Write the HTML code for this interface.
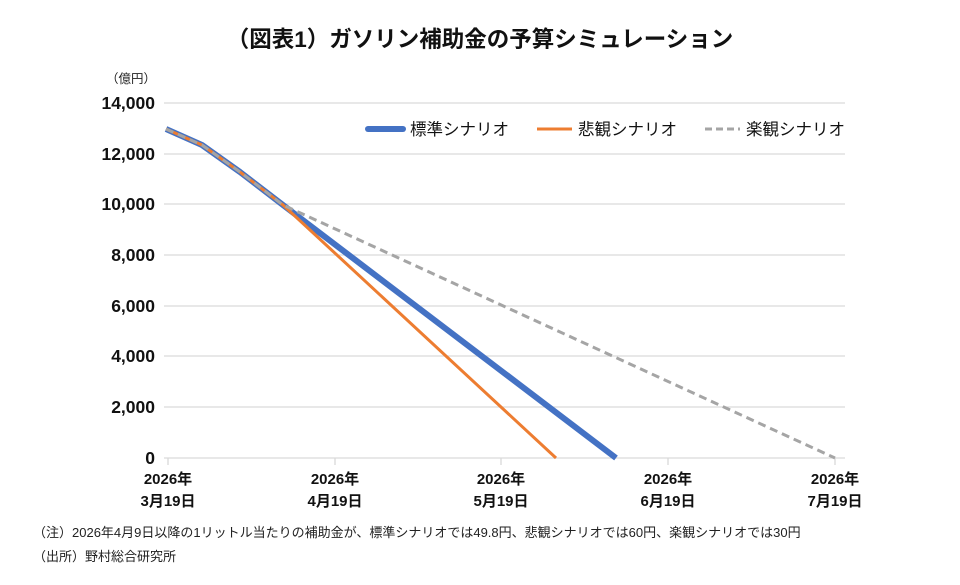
<!DOCTYPE html>
<html><head><meta charset="utf-8"><style>
body{margin:0;background:#fff;width:960px;height:580px;overflow:hidden;font-family:"Liberation Sans","Noto Sans CJK JP",sans-serif;}
</style></head><body>
<svg width="960" height="580" xmlns="http://www.w3.org/2000/svg" font-family="Liberation Sans, Noto Sans CJK JP, sans-serif">
<text x="480" y="47" text-anchor="middle" font-size="22.5" font-weight="bold" fill="#111">（図表1）ガソリン補助金の予算シミュレーション</text>
<text x="106" y="83" font-size="12.5" fill="#222">（億円）</text>
<g stroke="#d9d9d9" stroke-width="1.3">
<line x1="164" y1="103" x2="845" y2="103"/><line x1="164" y1="154" x2="845" y2="154"/>
<line x1="164" y1="204" x2="845" y2="204"/><line x1="164" y1="255" x2="845" y2="255"/>
<line x1="164" y1="306" x2="845" y2="306"/><line x1="164" y1="356" x2="845" y2="356"/>
<line x1="164" y1="407" x2="845" y2="407"/><line x1="164" y1="458" x2="845" y2="458"/>
<line x1="168" y1="458" x2="168" y2="465"/><line x1="335" y1="458" x2="335" y2="465"/>
<line x1="501" y1="458" x2="501" y2="465"/><line x1="668" y1="458" x2="668" y2="465"/>
<line x1="835" y1="458" x2="835" y2="465"/>
</g>
<g font-size="17.5" fill="#111" text-anchor="end" font-weight="bold">
<text x="155" y="109">14,000</text><text x="155" y="160">12,000</text><text x="155" y="210">10,000</text>
<text x="155" y="261">8,000</text><text x="155" y="312">6,000</text><text x="155" y="362">4,000</text>
<text x="155" y="413">2,000</text><text x="155" y="464">0</text>
</g>
<g font-size="15" fill="#111" text-anchor="middle" font-weight="bold">
<text x="168" y="484">2026年</text><text x="168" y="506">3月19日</text>
<text x="335" y="484">2026年</text><text x="335" y="506">4月19日</text>
<text x="501" y="484">2026年</text><text x="501" y="506">5月19日</text>
<text x="668" y="484">2026年</text><text x="668" y="506">6月19日</text>
<text x="835" y="484">2026年</text><text x="835" y="506">7月19日</text>
</g>
<polyline points="166,129 202,145 240,172 283,205 616,458" fill="none" stroke="#4472c4" stroke-width="6" stroke-linejoin="round"/>
<polyline points="166,129 202,145 240,172 283,205 556,458" fill="none" stroke="#ed7d31" stroke-width="3" stroke-linejoin="round"/>
<polyline points="166,129 202,145 240,172 283,205 835,458" fill="none" stroke="#a5a5a5" stroke-width="3" stroke-dasharray="8,5" stroke-linejoin="round"/>
<line x1="368" y1="129" x2="403" y2="129" stroke="#4472c4" stroke-width="6" stroke-linecap="round"/>
<text x="410" y="135" font-size="16.5" fill="#111">標準シナリオ</text>
<line x1="537" y1="129" x2="572" y2="129" stroke="#ed7d31" stroke-width="3"/>
<text x="578" y="135" font-size="16.5" fill="#111">悲観シナリオ</text>
<line x1="705" y1="129" x2="740" y2="129" stroke="#a5a5a5" stroke-width="3" stroke-dasharray="7,4"/>
<text x="746" y="135" font-size="16.5" fill="#111">楽観シナリオ</text>
<text x="33" y="537" font-size="13" fill="#222">（注）2026年4月9日以降の1リットル当たりの補助金が、標準シナリオでは49.8円、悲観シナリオでは60円、楽観シナリオでは30円</text>
<text x="33" y="561" font-size="13" fill="#222">（出所）野村総合研究所</text>
</svg>
</body></html>
